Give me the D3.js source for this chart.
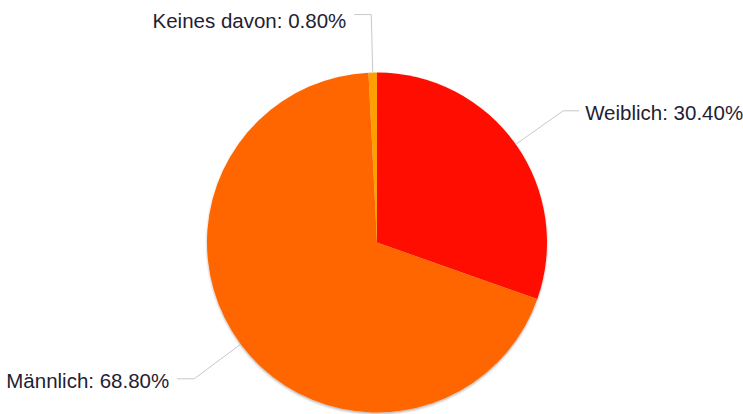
<!DOCTYPE html>
<html><head><meta charset="utf-8">
<script src="https://cdn.jsdelivr.net/npm/d3@7"></script>
<style>html,body{margin:0;padding:0;background:#fff;overflow:hidden}</style>
</head><body>
<svg id="chart" width="743" height="414"></svg>
<script>
const categories = ["Weiblich", "Männlich", "Keines davon"];
const values = [30.40, 68.80, 0.80];
const colors = ["#FF0F00", "#FF6600", "#FF9E01"];

const W = 743, H = 414;
const cx = 377, cy = 242.5, R = 170;
const svg = d3.select("#chart");

const defs = svg.append("defs");
const f = defs.append("filter").attr("id","sh").attr("x","-10%").attr("y","-10%").attr("width","120%").attr("height","120%");
f.append("feDropShadow").attr("dx",0).attr("dy",1.5).attr("stdDeviation",1.2).attr("flood-color","#000").attr("flood-opacity",0.3);

const data = categories.map((c,i)=>({name:c, value:values[i], color:colors[i]}));
const pie = d3.pie().value(d=>d.value).sort(null);
const arcs = pie(data);
const arc = d3.arc().innerRadius(0).outerRadius(R);
const outerArc = d3.arc().innerRadius(R + 58).outerRadius(R + 58);
const edgeArc = d3.arc().innerRadius(R).outerRadius(R);

const g = svg.append("g").attr("transform", `translate(${cx},${cy})`);
g.append("g").attr("filter","url(#sh)")
  .selectAll("path").data(arcs).join("path")
  .attr("d", arc).attr("fill", d=>d.data.color);

const fmt = d3.format(".2f");
const labels = g.append("g");
arcs.forEach(a => {
  const mid = (a.startAngle + a.endAngle) / 2;
  const isRight = Math.sin(mid) > 0;
  const p0 = edgeArc.centroid(a);
  const p1 = outerArc.centroid(a);
  const p2 = [p1[0] + (isRight ? 16 : -17), p1[1]];
  labels.append("polyline")
    .attr("points", [p0, p1, p2].map(p=>p.join(",")).join(" "))
    .attr("fill","none").attr("stroke","#c8c8c8").attr("stroke-width",1);
  const baseline = Math.max(p2[1] + 9.5, 28 - cy);
  labels.append("text")
    .attr("x", p2[0] + (isRight ? 6 : -8))
    .attr("y", baseline)
    .attr("text-anchor", isRight ? "start" : "end")
    .attr("font-family", "'Liberation Sans', Arial, Helvetica, sans-serif")
    .attr("font-size", 20.5)
    .attr("fill", "#1f2233")
    .text(`${a.data.name}: ${fmt(a.data.value)}%`);
});
</script>
</body></html>
